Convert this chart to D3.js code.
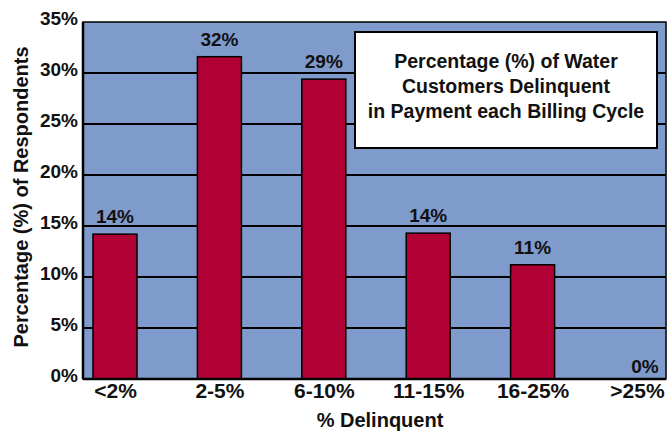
<!DOCTYPE html>
<html><head><meta charset="utf-8">
<script src="https://cdn.jsdelivr.net/npm/d3@7"></script>
<style>body{margin:0;background:#fff}svg{display:block}text{font-family:"Liberation Sans",Arial,sans-serif;font-weight:bold;fill:#111}</style>
</head><body>
<script>
const categories = ["<2%", "2-5%", "6-10%", "11-15%", "16-25%", ">25%"];
const values = [14.2, 31.6, 29.4, 14.3, 11.2, 0];
const valueLabels = ["14%", "32%", "29%", "14%", "11%", "0%"];
const yTicks = [0, 5, 10, 15, 20, 25, 30, 35];
const titleLines = ["Percentage (%) of Water", "Customers Delinquent", "in Payment each Billing Cycle"];

const W = 671, H = 434;
const m = {left: 83, right: 5, top: 22, bottom: 55};
const svg = d3.select("body").append("svg").attr("width", W).attr("height", H);

const y = d3.scaleLinear().domain([0, 35]).range([H - m.bottom, m.top]);
const x = d3.scalePoint().domain(categories).range([115, 637]);
const bw = 44;

svg.append("rect").attr("x", m.left).attr("y", m.top)
  .attr("width", W - m.left - m.right).attr("height", H - m.top - m.bottom)
  .attr("fill", "#7f9bcc");

svg.append("g").selectAll("line").data(yTicks.filter(d => d > 0 && d < 35)).join("line")
  .attr("x1", m.left).attr("x2", W - m.right)
  .attr("y1", d => y(d)).attr("y2", d => y(d))
  .attr("stroke", "#000").attr("stroke-width", 2);

svg.append("g").selectAll("rect").data(values).join("rect")
  .attr("x", (d, i) => x(categories[i]) - bw / 2)
  .attr("y", d => y(d))
  .attr("width", bw)
  .attr("height", d => y(0) - y(d))
  .attr("fill", "#b00034").attr("stroke", "#000").attr("stroke-width", d => d > 0 ? 1.5 : 0);

svg.append("g").selectAll("text").data(values).join("text")
  .attr("x", (d, i) => x(categories[i]) + (d === 0 ? 8 : 0))
  .attr("y", d => y(d) - (d === 0 ? 6 : 11))
  .attr("text-anchor", "middle").attr("font-size", 19)
  .text((d, i) => valueLabels[i]);

// frame
svg.append("rect").attr("x", m.left).attr("y", m.top)
  .attr("width", W - m.left - m.right).attr("height", H - m.top - m.bottom)
  .attr("fill", "none").attr("stroke", "#000").attr("stroke-width", 1.5);
svg.append("line").attr("x1", m.left).attr("x2", W - m.right).attr("y1", y(0)).attr("y2", y(0))
  .attr("stroke", "#000").attr("stroke-width", 2.5);
svg.append("line").attr("x1", m.left).attr("x2", m.left).attr("y1", m.top).attr("y2", y(0))
  .attr("stroke", "#000").attr("stroke-width", 2.5);

const yAxis = d3.axisLeft(y).tickValues(yTicks).tickFormat(d => d + "%").tickSize(0).tickPadding(5);
const gy = svg.append("g").attr("transform", `translate(${m.left},0)`).call(yAxis);
gy.select(".domain").remove();
gy.attr("font-family", null);
gy.selectAll("text").attr("font-size", 19).attr("dy", "0.15em");

const xAxis = d3.axisBottom(x).tickSize(0).tickPadding(3);
const gx = svg.append("g").attr("transform", `translate(0,${y(0)})`).call(xAxis);
gx.select(".domain").remove();
gx.attr("font-family", null);
gx.selectAll("text").attr("font-size", 21).attr("dy", "0.75em");

svg.append("text").attr("transform", "translate(28,197) rotate(-90)")
  .attr("text-anchor", "middle").attr("font-size", 20).text("Percentage (%) of Respondents");
svg.append("text").attr("x", 380).attr("y", 427)
  .attr("text-anchor", "middle").attr("font-size", 20).text("% Delinquent");

const tb = svg.append("g");
tb.append("rect").attr("x", 355).attr("y", 32).attr("width", 302).attr("height", 116)
  .attr("fill", "#fff").attr("stroke", "#000").attr("stroke-width", 2);
tb.selectAll("text").data(titleLines).join("text")
  .attr("x", 506).attr("y", (d, i) => 68 + i * 25)
  .attr("text-anchor", "middle").attr("font-size", 19.5).text(d => d);
</script>
</body></html>
